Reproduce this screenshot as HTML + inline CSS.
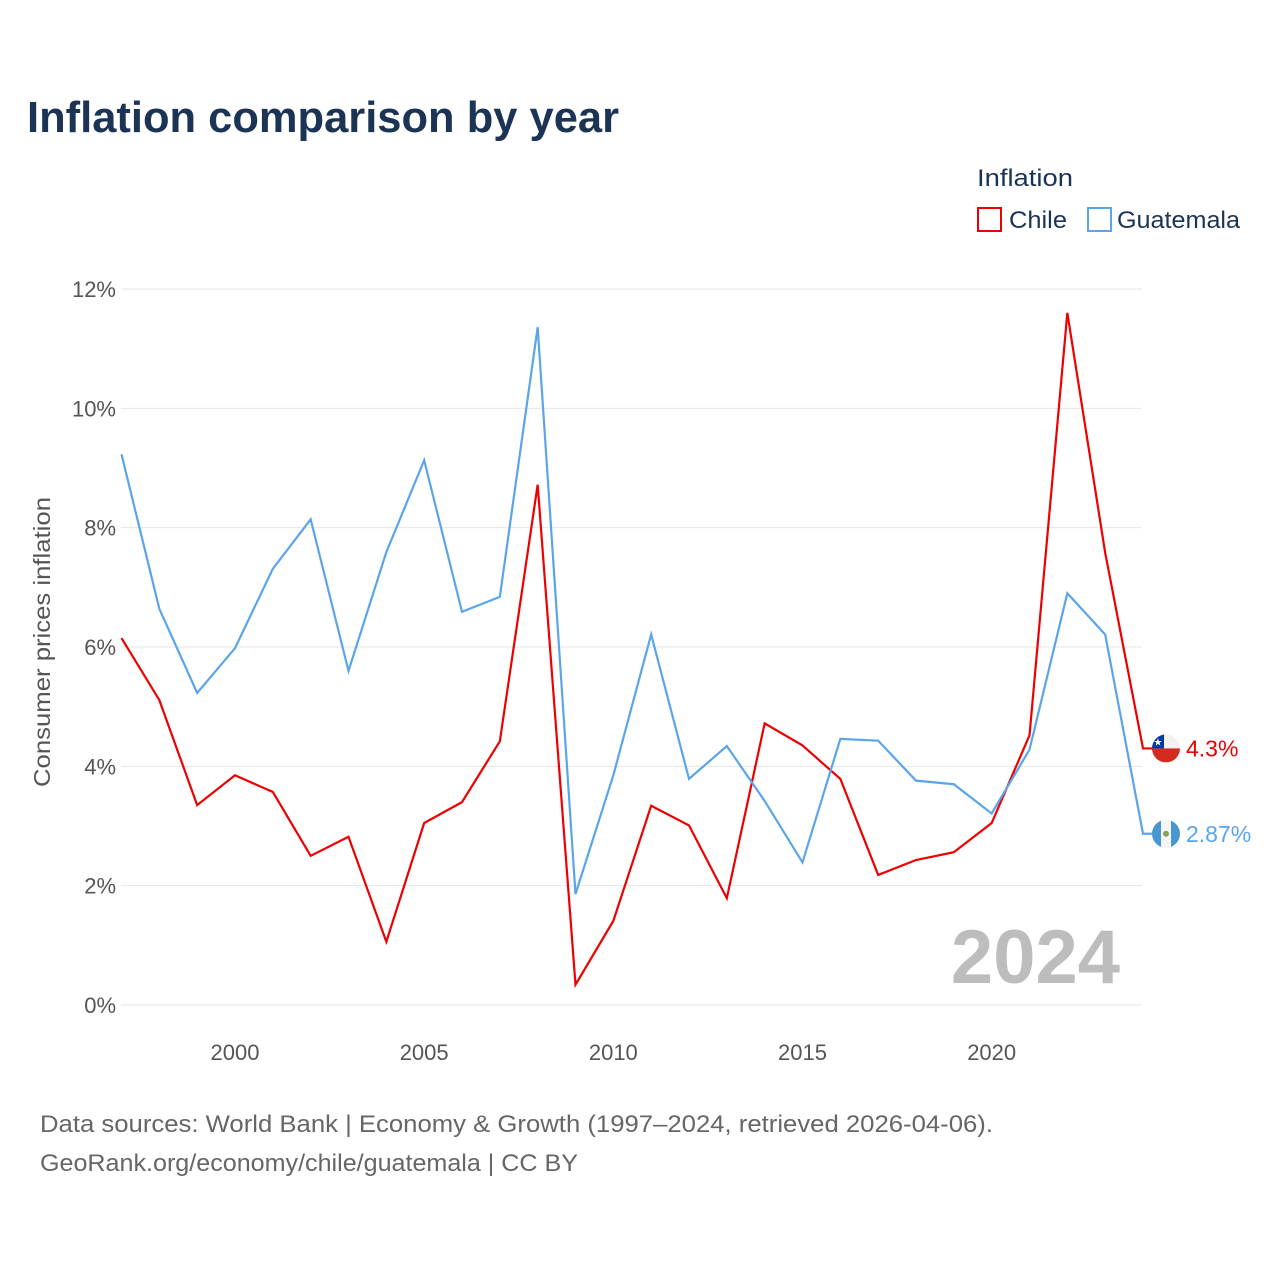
<!DOCTYPE html>
<html><head><meta charset="utf-8">
<style>
html,body{margin:0;padding:0;background:#fff;}
body{width:1280px;height:1280px;position:relative;font-family:"Liberation Sans",sans-serif;}
</style></head>
<body>
<svg id="chart" width="1280" height="1280" xmlns="http://www.w3.org/2000/svg" style="position:absolute;left:0;top:0">
<text x="27" y="132" font-size="44" font-weight="bold" fill="#1b3354" textLength="592" lengthAdjust="spacingAndGlyphs">Inflation comparison by year</text>
<text x="977" y="186" font-size="24" fill="#1b3354" textLength="96" lengthAdjust="spacingAndGlyphs">Inflation</text>
<rect x="978" y="208" width="23" height="23" fill="none" stroke="#ee0000" stroke-width="2"/>
<text x="1009" y="228" font-size="24" fill="#1b3354" textLength="58" lengthAdjust="spacingAndGlyphs">Chile</text>
<rect x="1088" y="208" width="23" height="23" fill="none" stroke="#5aa5ea" stroke-width="2"/>
<text x="1117" y="228" font-size="24" fill="#1b3354" textLength="123" lengthAdjust="spacingAndGlyphs">Guatemala</text>
<text transform="translate(50,642) rotate(-90)" text-anchor="middle" font-size="23" fill="#555" textLength="290" lengthAdjust="spacingAndGlyphs">Consumer prices inflation</text>
<g id="grid"></g>
<text x="1120" y="983" text-anchor="end" font-size="76" font-weight="bold" fill="#bdbdbd">2024</text>
<g id="series"></g>
<text x="40" y="1132" font-size="24" fill="#666" textLength="953" lengthAdjust="spacingAndGlyphs">Data sources: World Bank | Economy &amp; Growth (1997–2024, retrieved 2026-04-06).</text>
<text x="40" y="1171" font-size="24" fill="#666" textLength="538" lengthAdjust="spacingAndGlyphs">GeoRank.org/economy/chile/guatemala | CC BY</text>
</svg>
<script>
const years = [1997,1998,1999,2000,2001,2002,2003,2004,2005,2006,2007,2008,2009,2010,2011,2012,2013,2014,2015,2016,2017,2018,2019,2020,2021,2022,2023,2024];
const chile = [6.15,5.11,3.35,3.85,3.57,2.50,2.82,1.06,3.05,3.40,4.42,8.72,0.34,1.41,3.34,3.01,1.79,4.72,4.35,3.79,2.18,2.43,2.56,3.05,4.52,11.6,7.58,4.30];
const guatemala = [9.23,6.64,5.23,5.98,7.31,8.14,5.60,7.59,9.13,6.59,6.84,11.36,1.86,3.85,6.21,3.79,4.34,3.42,2.39,4.46,4.43,3.76,3.70,3.21,4.28,6.90,6.21,2.87];
const yTicks = [0,2,4,6,8,10,12];
const xTicks = [2000,2005,2010,2015,2020];
const endLabels = ["4.3%","2.87%"];

const NS="http://www.w3.org/2000/svg";
const x = v => 121.5 + (v-1997)*(1143-121.5)/27;
const y = v => 1005 - v*(1005-289)/12;
function mk(tag, attrs, parent){const e=document.createElementNS(NS,tag);for(const k in attrs)e.setAttribute(k,attrs[k]);parent.appendChild(e);return e;}
const grid=document.getElementById('grid'), series=document.getElementById('series');
yTicks.forEach(t=>{
  const l=mk('line',{x1:121,x2:1142,y1:y(t),y2:y(t),stroke:'#e6e6e6','stroke-width':1},grid);
  
  
  const tx=mk('text',{x:116,y:y(t)+8,'text-anchor':'end','font-size':22,fill:'#555'},grid);
  tx.textContent=t+'%';
  
  
});
xTicks.forEach(t=>{
  const tx=mk('text',{x:x(t),y:1060,'text-anchor':'middle','font-size':22,fill:'#555'},grid);
  tx.textContent=t;
  
  
});
function drawLine(vals,color,name,label,flag){
  const pts=vals.map((v,i)=>x(years[i])+','+y(vals[i]));
  const lastY=y(vals[vals.length-1]);
  pts.push((x(years[years.length-1])+10)+','+lastY);
  const p=mk('polyline',{points:pts.join(' '),fill:'none',stroke:color,'stroke-width':2.2,'stroke-linejoin':'miter'},series);
  
  
  const cx=1166;
  const g=mk('g',{},series);
  
  
  const clipId='clip-'+name;
  const cp=mk('clipPath',{id:clipId},g);mk('circle',{cx:cx,cy:lastY,r:14},cp);
  const gg=mk('g',{'clip-path':'url(#'+clipId+')'},g);
  if(flag==='cl'){
    mk('rect',{x:cx-14,y:lastY-14,width:28,height:14,fill:'#f2f2f2'},gg);
    mk('rect',{x:cx-14,y:lastY,width:28,height:14,fill:'#d52b1e'},gg);
    mk('rect',{x:cx-14,y:lastY-14,width:12,height:14,fill:'#0039a6'},gg);
    const s=mk('text',{x:cx-8,y:lastY-3,'text-anchor':'middle','font-size':10,fill:'#fff'},gg);s.textContent='★';
  } else {
    mk('rect',{x:cx-14,y:lastY-14,width:28,height:28,fill:'#f5f5f5'},gg);
    mk('rect',{x:cx-14,y:lastY-14,width:9,height:28,fill:'#4997d0'},gg);
    mk('rect',{x:cx+5,y:lastY-14,width:9,height:28,fill:'#4997d0'},gg);
    mk('circle',{cx:cx,cy:lastY,r:3,fill:'#8aa05a'},gg);
  }
  const t=mk('text',{x:1186,y:lastY+8,'font-size':23,fill:color},series);
  t.textContent=label;
  
  
}
drawLine(chile,'#ee0000','chile',endLabels[0],'cl');
drawLine(guatemala,'#5aa5ea','guatemala',endLabels[1],'gt');
</script>
</body></html>
